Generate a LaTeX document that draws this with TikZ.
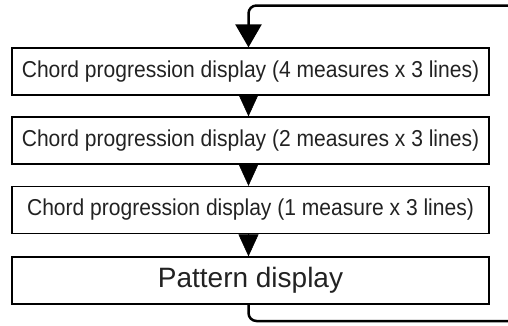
\documentclass[tikz,border=0pt]{standalone}
\usepackage{fontspec}
\setmainfont{Liberation Sans}
\newfontfamily\condfont[FakeStretch=0.915]{Liberation Sans}
\usetikzlibrary{arrows.meta}
\definecolor{txt}{HTML}{222222}
\tikzset{
  box/.style={draw=black, line width=1.3pt, minimum width=477pt, minimum height=47pt, inner sep=0pt, anchor=center, text=txt},
  chordtext/.style={font=\condfont\fontsize{23}{27}\selectfont},
  pattext/.style={font=\fontsize{28}{32}\selectfont},
  stepArrow/.style={-{Triangle[width=20pt,length=22pt]}, line width=0.5pt},
  loopline/.style={line width=2.5pt, rounded corners=8pt},
}
\begin{document}
\begin{tikzpicture}[x=1pt,y=1pt]
\useasboundingbox (0,0) rectangle (508,325);
\node[box, chordtext] (b1) at (250.5,253.5) {Chord progression display (4 measures x 3 lines)};
\node[box, chordtext] (b2) at (250.5,184.5) {Chord progression display (2 measures x 3 lines)};
\node[box, chordtext] (b3) at (250.5,115) {Chord progression display (1 measure x 3 lines)};
\node[box, pattext] (b4) at (250.5,44.5) {Pattern display};
\coordinate (tr) at (508,319.5);
\coordinate (br) at (508,4);
\draw[stepArrow] ([xshift=-2pt]b1.south) -- ([xshift=-2pt]b2.north);
\draw[stepArrow] ([xshift=-2pt]b2.south) -- ([xshift=-2pt]b3.north);
\draw[stepArrow] ([xshift=-2pt]b3.south) -- ([xshift=-2pt]b4.north);
\draw[loopline, -{Triangle[width=26pt,length=23pt]}] (tr) -| ([xshift=-2pt]b1.north);
\draw[loopline] ([xshift=-2pt]b4.south) |- (br);
\end{tikzpicture}
\end{document}
